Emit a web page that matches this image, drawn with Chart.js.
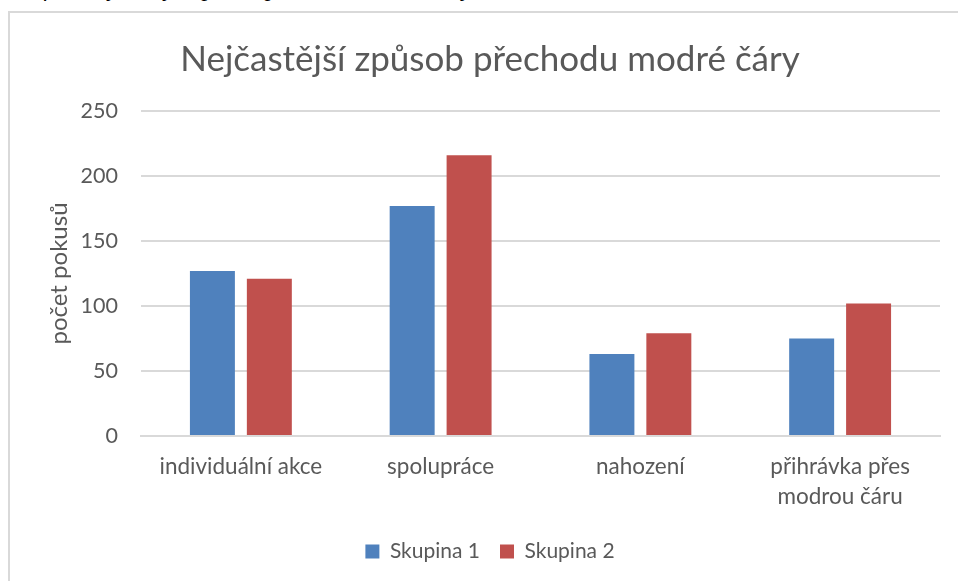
<!DOCTYPE html>
<html>
<head>
<meta charset="utf-8">
<script src="https://cdn.jsdelivr.net/npm/chart.js@4"></script>
<style>
    body { margin: 0; background: #fff; overflow: hidden; }
    #caption {
        position: absolute; left: 5px; top: -24px;
        font: italic 24px "Liberation Serif", serif; color: #000;
        white-space: nowrap; line-height: 1;
    }
    #frame {
        position: absolute; left: 8px; top: 11px; width: 1000px; height: 700px;
        border: 2px solid #d9d9d9;
    }
    #wrap { position: absolute; left: 0; top: 0; width: 958px; height: 581px; }
</style>
</head>
<body>
<div id="caption">Graf 7: Nejčastější způsob přechodu modré čáry</div>
<div id="frame"></div>
<div id="wrap"><canvas id="chart"></canvas></div>
<script>
// Data
const categories = ['individuální akce', 'spolupráce', 'nahození', ['přihrávka přes', 'modrou čáru']];
const skupina1 = [127, 177, 63, 75];
const skupina2 = [121, 216, 79, 102];
const yTicks = [0, 50, 100, 150, 200, 250];

const textColor = '#595959';
const fontFamily = 'Lato, "Open Sans", sans-serif';

// Fix axis sizes so the plot area lands where it does in the reference
const fixedAxes = {
    id: 'fixedAxes',
    beforeInit(chart) {
        chart.options.scales.y.afterFit = function(scale) { scale.width = 101; };
        chart.options.scales.x.afterFit = function(scale) { scale.height = 85; };
    }
};

new Chart(document.getElementById('chart'), {
    type: 'bar',
    data: {
        labels: categories,
        datasets: [
            { label: 'Skupina 1', data: skupina1, backgroundColor: '#4f81bd' },
            { label: 'Skupina 2', data: skupina2, backgroundColor: '#c0504d' }
        ]
    },
    options: {
        responsive: true,
        maintainAspectRatio: false,
        animation: false,
        categoryPercentage: 0.57,
        barPercentage: 0.79,
        layout: { padding: { left: 40, right: 18, top: 0, bottom: 9 } },
        plugins: {
            title: {
                display: true,
                text: 'Nejčastější způsob přechodu modré čáry',
                color: textColor,
                font: { family: fontFamily, size: 35, weight: 'normal' },
                padding: { top: 39, bottom: 30 }
            },
            legend: {
                position: 'bottom',
                labels: {
                    color: textColor,
                    font: { family: fontFamily, size: 21 },
                    boxWidth: 14,
                    boxHeight: 14,
                    padding: 20
                }
            },
            tooltip: { enabled: false }
        },
        scales: {
            x: {
                grid: { display: false },
                border: { color: '#d9d9d9', width: 2 },
                ticks: {
                    color: textColor,
                    font: { family: fontFamily, size: 22.5, lineHeight: 1.33 },
                    padding: 8,
                    maxRotation: 0
                }
            },
            y: {
                min: 0,
                max: 250,
                afterBuildTicks: function(scale) {
                    scale.ticks = yTicks.map(v => ({ value: v }));
                },
                grid: { color: '#d9d9d9', lineWidth: 2, drawTicks: false },
                border: { display: false },
                ticks: {
                    color: textColor,
                    font: { family: fontFamily, size: 21.5 },
                    padding: 23
                },
                title: {
                    display: true,
                    text: 'počet pokusů',
                    color: textColor,
                    font: { family: fontFamily, size: 24 },
                    padding: { top: 5, bottom: 0 }
                }
            }
        }
    },
    plugins: [fixedAxes]
});
</script>
</body>
</html>
